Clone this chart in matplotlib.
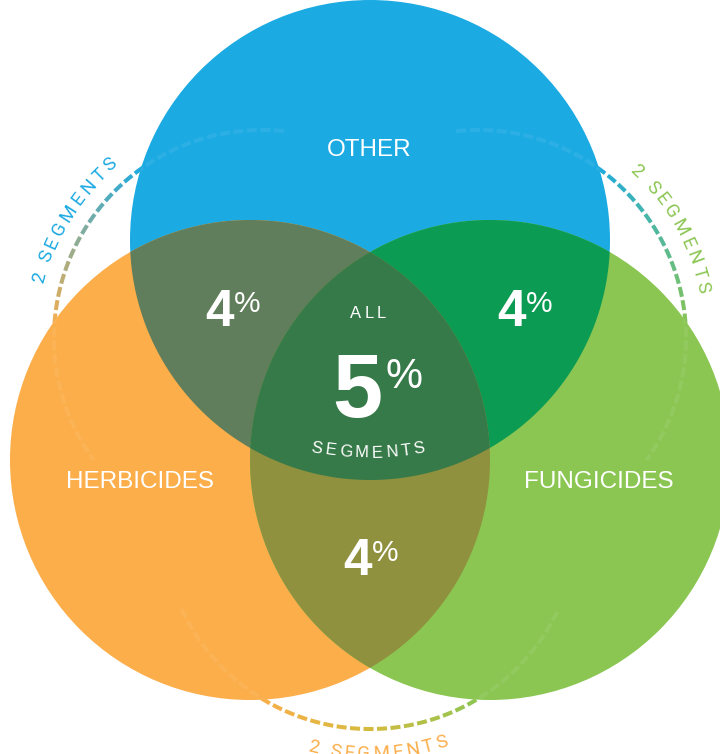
import numpy as np
import matplotlib
matplotlib.use('Agg')
import matplotlib.pyplot as plt
from matplotlib.patches import Circle, Polygon
from matplotlib.font_manager import FontProperties, findfont
from matplotlib.ft2font import FT2Font
from matplotlib.colors import to_rgb

# ---------------- data ----------------
set_names = ['OTHER', 'HERBICIDES', 'FUNGICIDES']
pair_values = [4, 4, 4]          # OTHER&HERB, OTHER&FUNG, HERB&FUNG  (%)
all_value = 5                    # all three (%)
all_top = 'ALL'
all_bottom = 'SEGMENTS'
ring_labels = ['2 SEGMENTS', '2 SEGMENTS', '2 SEGMENTS']   # left, right, bottom

set_colors = ['#1CAAE2', '#FBAE4A', '#8BC653']
pair_colors = ['#607E5B', '#0C9B53', '#8F913E']
all_color = '#377A49'

# ---------------- layout ----------------
W, H = 720, 754
R = 240
centers = [(370, 240), (250, 460), (490, 460)]

fig = plt.figure(figsize=(7.2, 7.54), dpi=100)
ax = fig.add_axes([0, 0, 1, 1])
ax.set_xlim(0, W)
ax.set_ylim(H, 0)
ax.axis('off')

RING = FontProperties(family=['Roboto', 'DejaVu Sans'], weight='normal')
BOLD = FontProperties(family=['Liberation Sans', 'DejaVu Sans'], weight='bold')
REG = FontProperties(family=['Liberation Sans', 'DejaVu Sans'], weight='normal')


def advances(s, fp, size_pt):
    f = FT2Font(findfont(fp))
    f.set_size(size_pt, 100)
    out = []
    for ch in s:
        g = f.load_char(ord(ch))
        try:
            out.append(g.linearHoriAdvance / 65536)
        except Exception:
            out.append(g.horiAdvance / 64)
    return out


# ---------------- regions ----------------
def region(idx):
    pts = []
    for i in idx:
        cx, cy = centers[i]
        t = np.linspace(0, 2 * np.pi, 4000, endpoint=False)
        p = np.c_[cx + R * np.cos(t), cy + R * np.sin(t)]
        ok = np.ones(len(p), bool)
        for j in idx:
            if j != i:
                ok &= np.hypot(p[:, 0] - centers[j][0], p[:, 1] - centers[j][1]) <= R + 1e-6
        pts.append(p[ok])
    P = np.vstack(pts)
    m = P.mean(0)
    ang = np.arctan2(P[:, 1] - m[1], P[:, 0] - m[0])
    return P[np.argsort(ang)]


circles = []
for (cx, cy), col in zip(centers, set_colors):
    c = Circle((cx, cy), R, facecolor=col, edgecolor='none', zorder=2)
    ax.add_patch(c)
    circles.append(c)

pairs = [(0, 1), (0, 2), (1, 2)]
for pr, col in zip(pairs, pair_colors):
    ax.add_patch(Polygon(region(pr), closed=True, facecolor=col, edgecolor='none', zorder=3))
ax.add_patch(Polygon(region((0, 1, 2)), closed=True, facecolor=all_color, edgecolor='none', zorder=4))

# ---------------- dashed gradient arcs ----------------
RA = 208
arcs = [
    # center, theta start, theta end, gradient stops (theta, colour)
    ((262, 338), 84, 216, [(125, set_colors[0]), (178, set_colors[1])]),
    ((478, 338), 96, -36, [(57, set_colors[0]), (2, set_colors[2])]),
    ((370, 521), 205, 335, [(238, set_colors[1]), (270, '#D4BB3E'), (302, set_colors[2])]),
]


def grad_color(stops, th):
    ths = [s[0] for s in stops]
    if ths[0] > ths[-1]:
        stops = stops[::-1]
        ths = ths[::-1]
    cols = np.array([to_rgb(s[1]) for s in stops])
    return tuple(np.interp(th, ths, cols[:, k]) for k in range(3))


def draw_dashes(cx, cy, th0, th1, stops, zorder, color=None, alpha=1.0, clip=None):
    L = abs(th1 - th0) * np.pi / 180 * RA
    sgn = 1 if th1 > th0 else -1
    dash, gap = 10.0, 3.5
    pos = 0.0
    while pos < L:
        a, b = pos, min(pos + dash, L)
        th = th0 + sgn * np.degrees(np.linspace(a, b, 8) / RA)
        tm = np.radians(th)
        x = cx + RA * np.cos(tm)
        y = cy - RA * np.sin(tm)
        col = color if color is not None else grad_color(stops, th.mean())
        ln, = ax.plot(x, y, color=col, lw=2.9, solid_capstyle='butt', alpha=alpha, zorder=zorder)
        if clip is not None:
            ln.set_clip_path(clip)
        pos += dash + gap


for (cx, cy), t0, t1, stops in arcs:
    draw_dashes(cx, cy, t0, t1, stops, zorder=1)
    for c in circles:
        draw_dashes(cx, cy, t0, t1, stops, zorder=5, color='white', alpha=0.07, clip=c)


# ---------------- curved ring labels ----------------
def curved_text(s, cx, cy, r_base, th_c, direction, fs, color, tracking, fp):
    adv = advances(s, fp, fs)
    total = sum(adv) + tracking * (len(s) - 1)
    x0 = 0.0
    for ch, a in zip(s, adv):
        off = x0 + a / 2 - total / 2
        th = th_c + direction * np.degrees(off / r_base)
        x = cx + r_base * np.cos(np.radians(th))
        y = cy - r_base * np.sin(np.radians(th))
        rot = th - 90 if direction < 0 else th + 90
        ax.text(x, y, ch, rotation=rot, rotation_mode='anchor', ha='center', va='baseline',
                fontsize=fs, color=color, fontproperties=fp, zorder=6)
        x0 += a + tracking


ring_fs = 13.5
curved_text(ring_labels[0], 262, 338, 225, 148, -1, ring_fs, set_colors[0], 3.4, RING)
curved_text(ring_labels[1], 478, 338, 225, 29.5, -1, ring_fs, set_colors[2], 3.4, RING)
curved_text(ring_labels[2], 370, 521, 238, 272, 1, ring_fs, set_colors[1], 3.4, RING)

# ---------------- set names ----------------
label_pos = [(369, 148), (140, 479), (599, 479)]
for name, (x, y) in zip(set_names, label_pos):
    ax.text(x, y, name, ha='center', va='center_baseline', fontsize=17.5, color='white',
            fontproperties=REG, zorder=6)


# ---------------- percentage labels ----------------
def pct_label(xc, base, value, big, small, rise, gap):
    num = str(value)
    wn = sum(advances(num, BOLD, big))
    wp = sum(advances('%', REG, small))
    left = xc - (wn + gap + wp) / 2
    ax.text(left, base, num, ha='left', va='baseline', fontsize=big, color='white',
            fontproperties=BOLD, zorder=6)
    ax.text(left + wn + gap, base - rise, '%', ha='left', va='baseline', fontsize=small,
            color='white', fontproperties=REG, zorder=6)


pct_pos = [(233, 326), (525, 326), (371, 575)]
for v, (x, y) in zip(pair_values, pct_pos):
    pct_label(x, y, v, 37, 21.5, 14, 0)
pct_label(377, 417, all_value, 65, 30, 29, 3)


def tracked_text(s, xc, y, fs, tracking, fp):
    adv = advances(s, fp, fs)
    total = sum(adv) + tracking * (len(s) - 1)
    x0 = xc - total / 2
    for ch, a in zip(s, adv):
        ax.text(x0 + a / 2, y, ch, ha='center', va='baseline', fontsize=fs, color='white',
                fontproperties=fp, zorder=6)
        x0 += a + tracking


tracked_text(all_top, 368, 318, 12, 3.5, REG)
curved_text(all_bottom, 368, 151.5, 306, 270, 1, 12, 'white', 3.2, REG)

fig.savefig('out.png', dpi=100)
